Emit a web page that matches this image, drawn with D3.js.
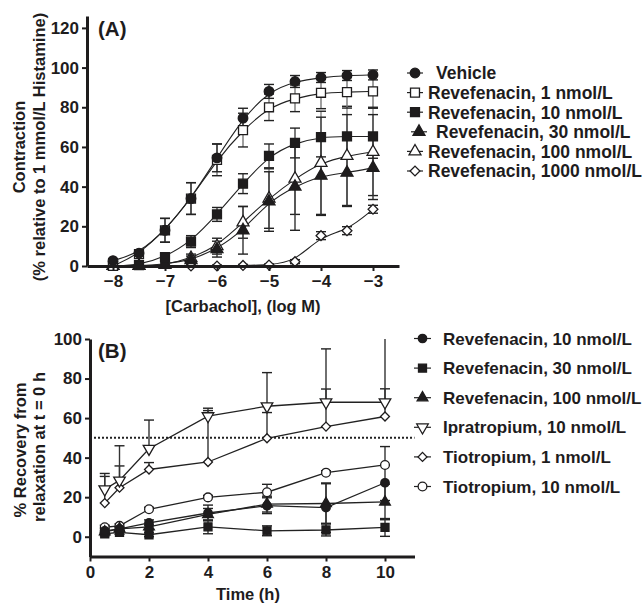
<!DOCTYPE html>
<html>
<head>
<meta charset="utf-8">
<script src="https://cdn.jsdelivr.net/npm/d3@7"></script>
<style>
    body { margin: 0; background: #fff; }
    svg { display: block; font-family: "Liberation Sans", Arial, Helvetica, sans-serif; font-weight: bold; }
</style>
</head>
<body>
<div id="chart"></div>
<script>
// ---- Panel A: carbachol concentration-response (log M) ----
const carbachol = [-8, -7.5, -7, -6.5, -6, -5.5, -5, -4.5, -4, -3.5, -3];
const vehicle    = [2.7, 6.5, 18, 34, 54.5, 74.5, 88, 93, 95, 96, 96.3];
const vehicleSem = [1, 1.5, 6, 8, 7, 5, 3.5, 3, 2.5, 2.5, 2.5];
const rev1       = [0, 6, 18, 34, 53.5, 68.5, 80, 84.5, 87.3, 87.6, 88];
const rev1Sem    = [1, 1.5, 6, 8, 8, 8.5, 6.7, 6.7, 8, 8, 8];
const rev10      = [0, 0.5, 4.5, 12.3, 26, 41.5, 55.5, 62, 65, 65.3, 65.3];
const rev10Sem   = [0.5, 1, 2, 3, 3.5, 5, 6, 7.5, 10, 11, 11];
const rev30      = [0, 0, 1, 3, 8.5, 18, 32.5, 40, 45.5, 47, 49.5];
const rev30Sem   = [0, 0, 1, 2, 4, 12, 15, 22, 20, 17, 16];
const rev100     = [0, 0, 0.5, 4, 10, 22, 34, 44, 52, 55.5, 57.5];
const rev100Sem  = [0, 0, 1, 2, 4, 8, 15, 18, 26, 25, 22];
const rev1000    = [null, null, null, 0, 0, 0.3, 0.5, 2.2, 15.3, 17.8, 28.6];
const rev1000Sem = [0, 0, 0, 0.5, 0.5, 0.5, 0.5, 1, 2, 2, 2];
const legendA = ["Vehicle", "Revefenacin, 1 nmol/L", "Revefenacin, 10 nmol/L",
    "Revefenacin, 30 nmol/L", "Revefenacin, 100 nmol/L", "Revefenacin, 1000 nmol/L"];
const ticksA_x = [-8, -7, -6, -5, -4, -3];
const ticksA_y = [0, 20, 40, 60, 80, 100, 120];

// ---- Panel B: recovery time course (h) ----
const hours = [0.5, 1, 2, 4, 6, 8, 10];
const bRev10     = [3, 4, 7, 12, 15.7, 14.7, 27.3];
const bRev10Sem  = [1, 1, 1.5, 4, 4, 12.5, 9];
const bRev30     = [1.5, 2.2, 1, 5, 3, 3.4, 4.7];
const bRev30Sem  = [1, 1, 1, 3.5, 2.5, 3, 4.5];
const bRev100    = [2.5, 4, 5, 11.3, 16.5, 16.8, 17.6];
const bRev100Sem = [0.5, 0.5, 1, 3, 4, 10, 9];
const ipra       = [24, 28.5, 44.5, 61, 66, 68, 68];
const ipraSem    = [8, 17.5, 14.5, 4, 17, 27, 33];
const tio1       = [17, 24.8, 34, 37.8, 49.8, 55.7, 60.8];
const tio1Sem    = [13.5, 11, 3.5, 26, 13, 19, 14];
const tio10      = [4.8, 5.5, 13.9, 19.9, 22.5, 32.4, 36.3];
const tio10Sem   = [1, 1, 1, 1, 4, 1, 9.3];
const legendB = ["Revefenacin, 10 nmol/L", "Revefenacin, 30 nmol/L", "Revefenacin, 100 nmol/L",
    "Ipratropium, 10 nmol/L", "Tiotropium, 1 nmol/L", "Tiotropium, 10 nmol/L"];
const ticksB_x = [0, 2, 4, 6, 8, 10];
const ticksB_y = [0, 20, 40, 60, 80, 100];
const threshold = 50;

const W = 642, H = 606;
const INK = "#1e1c1d";
const svg = d3.select("#chart").append("svg")
    .attr("width", W)
    .attr("height", H)
    .attr("viewBox", `0 0 ${W} ${H}`);
svg.append("rect").attr("width", W).attr("height", H).attr("fill", "#fff");

const symbolTypes = {
    circle: d3.symbolCircle, square: d3.symbolSquare, triangle: d3.symbolTriangle,
    diamond: d3.symbolSquare, down: d3.symbolTriangle
};

// draws one marker at (x, y)
function marker(g, x, y, kind, filled, size) {
    const rot = kind === "diamond" ? 45 : kind === "down" ? 180 : 0;
    g.append("path")
        .attr("d", d3.symbol(symbolTypes[kind], size)())
        .attr("transform", `translate(${x},${y}) rotate(${rot})`)
        .attr("fill", filled ? INK : "#fff")
        .attr("stroke", INK)
        .attr("stroke-width", 1.3);
}

function styleAxis(g) {
    g.select(".domain").attr("stroke", INK).attr("stroke-width", 3);
    g.selectAll(".tick line").attr("stroke", INK).attr("stroke-width", 2);
    g.selectAll(".tick text").attr("fill", INK).attr("font-size", "17px")
        .attr("font-family", "Liberation Sans, Arial, sans-serif").attr("font-weight", "bold");
}

function errorBars(g, xs, ys, sems, x, y, color, mode) {
    xs.forEach((xv, i) => {
        const v = ys[i];
        if (v == null || !sems[i]) return;
        const hi = v + sems[i];
        const lo = mode === "up" ? v : v - sems[i];
        const px = x(xv);
        g.append("line").attr("x1", px).attr("x2", px)
            .attr("y1", y(Math.min(hi, y.domain()[1]))).attr("y2", y(lo))
            .attr("stroke", color).attr("stroke-width", 1.4);
        const caps = mode === "up" ? [hi] : [hi, lo];
        caps.forEach(c => {
            if (c > y.domain()[1]) return;
            g.append("line").attr("x1", px - 5).attr("x2", px + 5)
                .attr("y1", y(c)).attr("y2", y(c))
                .attr("stroke", "#222").attr("stroke-width", 1.4);
        });
    });
}

// ================= Panel A =================
const xA = d3.scaleLinear().domain([-8.5, -2.5]).range([87, 399]);
const yA = d3.scaleLinear().domain([0, 126]).range([266, 16]);

const seriesA = [
    { name: legendA[5], ys: rev1000, sem: rev1000Sem, kind: "diamond", filled: false, size: 48, bar: "#777" },
    { name: legendA[4], ys: rev100, sem: rev100Sem, kind: "triangle", filled: false, size: 62, bar: "#888" },
    { name: legendA[3], ys: rev30, sem: rev30Sem, kind: "triangle", filled: true, size: 62, bar: "#333" },
    { name: legendA[2], ys: rev10, sem: rev10Sem, kind: "square", filled: true, size: 80, bar: "#444" },
    { name: legendA[1], ys: rev1, sem: rev1Sem, kind: "square", filled: false, size: 80, bar: "#777" },
    { name: legendA[0], ys: vehicle, sem: vehicleSem, kind: "circle", filled: true, size: 72, bar: "#333" }
];

const gA = svg.append("g");
seriesA.forEach(s => errorBars(gA, carbachol, s.ys, s.sem, xA, yA, s.bar, "both"));

const curveA = d3.line()
    .defined(d => d[1] != null)
    .x(d => xA(d[0]))
    .y(d => yA(d[1]))
    .curve(d3.curveBasis);

seriesA.forEach(s => {
    gA.append("path")
        .attr("d", curveA(carbachol.map((c, i) => [c, s.ys[i]])))
        .attr("fill", "none").attr("stroke", "#222").attr("stroke-width", 1.1);
});
seriesA.forEach(s => {
    carbachol.forEach((c, i) => {
        if (s.ys[i] != null) marker(gA, xA(c), yA(s.ys[i]), s.kind, s.filled, s.size);
    });
});

svg.append("g").attr("transform", "translate(87,0)")
    .call(d3.axisLeft(yA).tickValues(ticksA_y).tickSize(5).tickPadding(3).tickSizeOuter(0))
    .call(styleAxis);
svg.append("g").attr("transform", "translate(0,266)")
    .call(d3.axisBottom(xA).tickValues(ticksA_x).tickFormat(d3.format("d"))
        .tickSize(5).tickPadding(4).tickSizeOuter(0))
    .call(styleAxis);

svg.append("text").attr("x", 98).attr("y", 36).attr("font-size", "20.5px").attr("fill", INK).text("(A)");
svg.append("text").attr("x", 243).attr("y", 312).attr("text-anchor", "middle")
    .attr("font-size", "16.5px").attr("fill", INK).text("[Carbachol], (log M)");
svg.append("text").attr("transform", "translate(25,147) rotate(-90)").attr("text-anchor", "middle")
    .attr("font-size", "16.5px").attr("fill", INK).text("Contraction");
svg.append("text").attr("transform", "translate(45,147) rotate(-90)").attr("text-anchor", "middle")
    .attr("font-size", "16.5px").attr("fill", INK).text("(% relative to 1 mmol/L Histamine)");

// legend rows in the source are not perfectly aligned; nudge two of them
const legA = svg.append("g");
seriesA.slice().reverse().forEach((s, i) => {
    const yy = 73 + i * 19.6;
    const mx = i === 3 ? 419 : 415;
    const tx = (i === 0 || i === 3) ? 436 : 428;
    legA.append("line").attr("x1", mx - 8).attr("x2", mx + 8).attr("y1", yy).attr("y2", yy)
        .attr("stroke", "#222").attr("stroke-width", 1.2);
    marker(legA, mx, yy, s.kind, s.filled, s.size);
    legA.append("text").attr("x", tx).attr("y", yy).attr("dy", "0.36em")
        .attr("font-size", "17.5px").attr("fill", INK).text(s.name);
});

// ================= Panel B =================
const xB = d3.scaleLinear().domain([0, 11]).range([90, 414.5]);
const yB = d3.scaleLinear().domain([-10, 100]).range([556.5, 339]);

const seriesB = [
    { name: legendB[5], ys: tio10, sem: tio10Sem, kind: "circle", filled: false, size: 60, mode: "up" },
    { name: legendB[4], ys: tio1, sem: tio1Sem, kind: "diamond", filled: false, size: 40, mode: "up" },
    { name: legendB[3], ys: ipra, sem: ipraSem, kind: "down", filled: false, size: 58, mode: "up" },
    { name: legendB[2], ys: bRev100, sem: bRev100Sem, kind: "triangle", filled: true, size: 50, mode: "both" },
    { name: legendB[1], ys: bRev30, sem: bRev30Sem, kind: "square", filled: true, size: 64, mode: "both" },
    { name: legendB[0], ys: bRev10, sem: bRev10Sem, kind: "circle", filled: true, size: 56, mode: "both" }
];

const gB = svg.append("g");
gB.append("line").attr("x1", xB(0)).attr("x2", xB(11)).attr("y1", yB(threshold)).attr("y2", yB(threshold))
    .attr("stroke", "#222").attr("stroke-width", 2).attr("stroke-dasharray", "2,2");

seriesB.forEach(s => errorBars(gB, hours, s.ys, s.sem, xB, yB, "#333", s.mode));

const lineB = d3.line().x(d => xB(d[0])).y(d => yB(d[1]));
seriesB.forEach(s => {
    gB.append("path")
        .attr("d", lineB(hours.map((h, i) => [h, s.ys[i]])))
        .attr("fill", "none").attr("stroke", "#222").attr("stroke-width", 1.3);
});
seriesB.forEach(s => {
    hours.forEach((h, i) => marker(gB, xB(h), yB(s.ys[i]), s.kind, s.filled, s.size));
});

svg.append("g").attr("transform", "translate(90,0)")
    .call(d3.axisLeft(yB).tickValues(ticksB_y).tickSize(5).tickPadding(3).tickSizeOuter(0))
    .call(styleAxis);
svg.append("g").attr("transform", "translate(0,556.5)")
    .call(d3.axisBottom(xB).tickValues(ticksB_x).tickSize(5).tickPadding(4).tickSizeOuter(0))
    .call(styleAxis);

svg.append("text").attr("x", 98).attr("y", 358).attr("font-size", "20.5px").attr("fill", INK).text("(B)");
svg.append("text").attr("x", 248).attr("y", 600).attr("text-anchor", "middle")
    .attr("font-size", "16.5px").attr("fill", INK).text("Time (h)");
svg.append("text").attr("transform", "translate(26,450) rotate(-90)").attr("text-anchor", "middle")
    .attr("font-size", "16.5px").attr("fill", INK).text("% Recovery from");
svg.append("text").attr("transform", "translate(45,447) rotate(-90)").attr("text-anchor", "middle")
    .attr("font-size", "16.5px").attr("fill", INK).text("relaxation at t = 0 h");

const legB = svg.append("g");
seriesB.slice().reverse().forEach((s, i) => {
    const yy = 338.5 + i * 29.6;
    legB.append("line").attr("x1", 414).attr("x2", 431).attr("y1", yy).attr("y2", yy)
        .attr("stroke", "#222").attr("stroke-width", 1.2);
    marker(legB, 422.5, yy, s.kind, s.filled, s.size);
    legB.append("text").attr("x", 443).attr("y", yy).attr("dy", "0.36em")
        .attr("font-size", "17px").attr("fill", INK).text(s.name);
});
</script>
</body>
</html>
